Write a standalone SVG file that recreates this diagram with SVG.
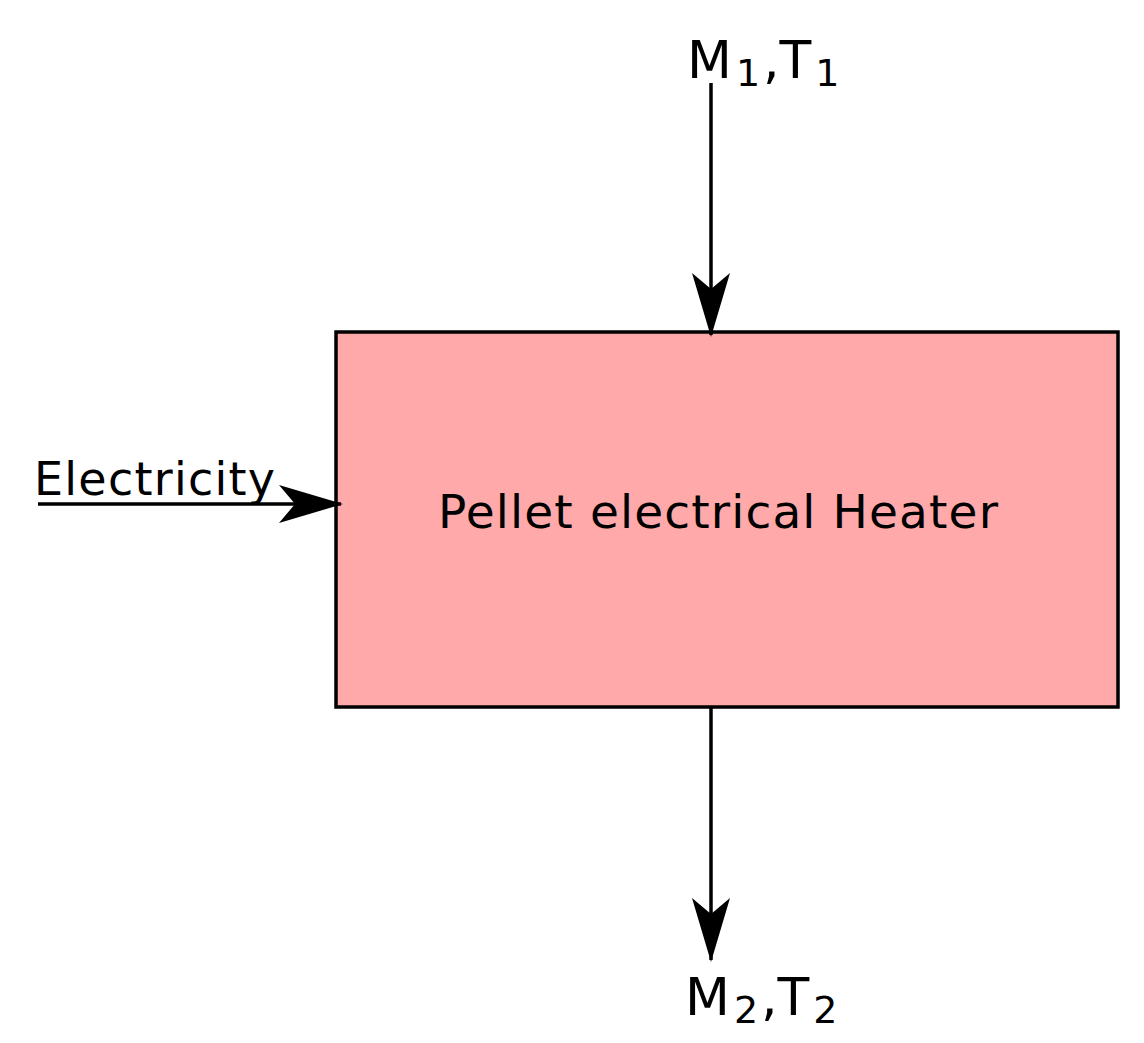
<svg xmlns="http://www.w3.org/2000/svg" width="1144" height="1043" viewBox="0 0 1144 1043">
<style>
text{font-family:"DejaVu Sans",Verdana,sans-serif;fill:#000}
.c{stroke:#000;stroke-width:3.5;fill:none}
</style>
<defs>
<marker id="ah" markerUnits="userSpaceOnUse" markerWidth="70" markerHeight="50" viewBox="-65 -25 70 50" refX="0" refY="0" orient="auto">
<path d="M2,0 L-62,-19 L-46,0 L-62,19 Z" fill="#000"/>
</marker>
</defs>
<rect width="1144" height="1043" fill="#fff"/>
<g id="heater">
<rect x="336" y="332" width="782" height="375" fill="#ffa9aa" stroke="#000" stroke-width="3.5"/>
<text x="438" y="528" font-size="47" textLength="560" lengthAdjust="spacing">Pellet electrical Heater</text>
</g>
<g id="in1">
<text x="687" y="78" font-size="52">M<tspan font-size="38" dy="8" dx="4">1</tspan><tspan dy="-8" dx="3">,T</tspan><tspan font-size="38" dy="8" dx="4">1</tspan></text>
</g>
<g id="out2">
<text x="685" y="1015" font-size="52">M<tspan font-size="38" dy="8" dx="4">2</tspan><tspan dy="-8" dx="3">,T</tspan><tspan font-size="38" dy="8" dx="4">2</tspan></text>
</g>
<g id="elec">
<text x="34" y="495" font-size="46" textLength="241" lengthAdjust="spacing">Electricity</text>
</g>
<g id="connectors">
<line class="c" x1="711" y1="83" x2="711" y2="335" marker-end="url(#ah)"/>
<line class="c" x1="711" y1="707" x2="711" y2="960" marker-end="url(#ah)"/>
<line class="c" x1="38" y1="504" x2="341" y2="504" marker-end="url(#ah)"/>
</g>
</svg>
